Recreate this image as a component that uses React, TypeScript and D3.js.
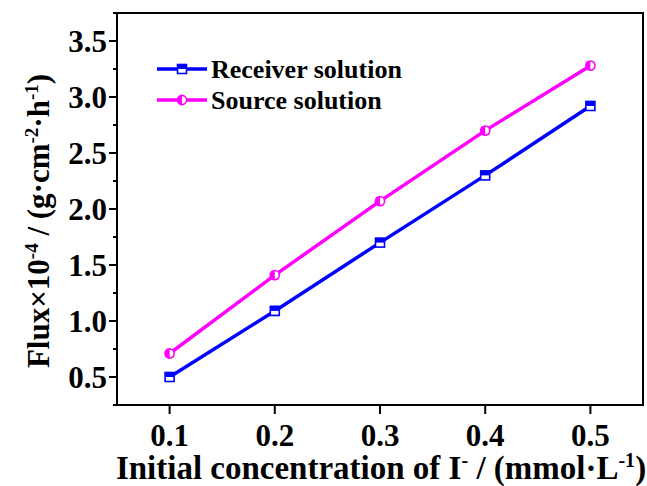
import React from "react";
import * as d3 from "d3";

const concentrations = [0.1, 0.2, 0.3, 0.4, 0.5];
const receiverFlux = [0.5, 1.09, 1.7, 2.3, 2.92];
const sourceFlux = [0.71, 1.41, 2.07, 2.7, 3.28];
const receiverErr = [0.03, 0.04, 0.03, 0.03, 0.03];
const sourceErr = [0.03, 0.03, 0.03, 0.03, 0.03];
const xTicks = [0.1, 0.2, 0.3, 0.4, 0.5];
const yTicks = [0.5, 1.0, 1.5, 2.0, 2.5, 3.0, 3.5];
const yMinorTicks = [0.25, 0.75, 1.25, 1.75, 2.25, 2.75, 3.25, 3.75];
const seriesNames = ["Receiver solution", "Source solution"];

const W = 647;
const H = 486;
const M = { left: 117, right: 643, top: 13, bottom: 405 };
const BLUE = "#0000ff";
const MAGENTA = "#ff00ff";
const FONT = "'Liberation Serif', 'Times New Roman', serif";

export default function App() {
  const x = d3.scaleLinear().domain([0.05, 0.55]).range([M.left, M.right]);
  const y = d3.scaleLinear().domain([0.25, 3.75]).range([M.bottom, M.top]);
  const line = d3
    .line<number>()
    .x((_, i) => x(concentrations[i]))
    .y((d) => y(d));

  const squareMarker = (cx: number, cy: number, color: string, key: string) => (
    <g key={key}>
      <rect x={cx - 4.5} y={cy - 4.5} width={9} height={9} fill="#fff" stroke={color} strokeWidth={1.6} />
      <rect x={cx - 4.5} y={cy - 4.5} width={9} height={4.5} fill={color} />
    </g>
  );
  const circleMarker = (cx: number, cy: number, color: string, key: string) => (
    <g key={key}>
      <circle cx={cx} cy={cy} r={4.6} fill="#fff" stroke={color} strokeWidth={1.6} />
      <path d={`M${cx},${cy - 4.6} A4.6,4.6 0 0 0 ${cx},${cy + 4.6} Z`} fill={color} />
    </g>
  );
  const errBar = (cx: number, v: number, e: number, color: string, key: string) => (
    <g key={key} stroke={color} strokeWidth={1.4}>
      <line x1={cx} x2={cx} y1={y(v - e)} y2={y(v + e)} />
      <line x1={cx - 4} x2={cx + 4} y1={y(v - e)} y2={y(v - e)} />
      <line x1={cx - 4} x2={cx + 4} y1={y(v + e)} y2={y(v + e)} />
    </g>
  );

  return (
    <svg width={W} height={H} style={{ position: "absolute", left: 0, top: 0, background: "#fff" }} fontFamily={FONT}>
      {/* frame */}
      <rect x={M.left} y={M.top} width={M.right - M.left} height={M.bottom - M.top} fill="none" stroke="#000" strokeWidth={2} />

      {/* y axis ticks */}
      {yTicks.map((t) => (
        <g key={"y" + t}>
          <line x1={M.left - 8} x2={M.left} y1={y(t)} y2={y(t)} stroke="#000" strokeWidth={2} />
          <text x={M.left - 10} y={y(t)} dy="0.35em" textAnchor="end" fontSize={31} fontWeight="bold">
            {d3.format(".1f")(t)}
          </text>
        </g>
      ))}
      {yMinorTicks.map((t) => (
        <line key={"ym" + t} x1={M.left - 4} x2={M.left} y1={y(t)} y2={y(t)} stroke="#000" strokeWidth={2} />
      ))}

      {/* x axis ticks */}
      {xTicks.map((t) => (
        <g key={"x" + t}>
          <line x1={x(t)} x2={x(t)} y1={M.bottom} y2={M.bottom + 9} stroke="#000" strokeWidth={2} />
          <text x={x(t)} y={M.bottom + 41} textAnchor="middle" fontSize={31} fontWeight="bold">
            {d3.format(".1f")(t)}
          </text>
        </g>
      ))}

      {/* series lines */}
      <path d={line(receiverFlux) || ""} fill="none" stroke={BLUE} strokeWidth={3.5} />
      <path d={line(sourceFlux) || ""} fill="none" stroke={MAGENTA} strokeWidth={3.5} />
      {receiverFlux.map((v, i) => errBar(x(concentrations[i]), v, receiverErr[i], BLUE, "re" + i))}
      {sourceFlux.map((v, i) => errBar(x(concentrations[i]), v, sourceErr[i], MAGENTA, "se" + i))}
      {receiverFlux.map((v, i) => squareMarker(x(concentrations[i]), y(v), BLUE, "rm" + i))}
      {sourceFlux.map((v, i) => circleMarker(x(concentrations[i]), y(v), MAGENTA, "sm" + i))}

      {/* legend */}
      <g>
        <line x1={157} x2={207} y1={69} y2={69} stroke={BLUE} strokeWidth={3.5} />
        {squareMarker(182, 69, BLUE, "lg0")}
        <text x={211} y={69} dy="0.35em" fontSize={26} fontWeight="bold">{seriesNames[0]}</text>
        <line x1={157} x2={207} y1={100} y2={100} stroke={MAGENTA} strokeWidth={3.5} />
        {circleMarker(182, 100, MAGENTA, "lg1")}
        <text x={211} y={100} dy="0.35em" fontSize={26} fontWeight="bold">{seriesNames[1]}</text>
      </g>

      {/* axis titles */}
      <text x={381} y={479} textAnchor="middle" fontSize={33} fontWeight="bold">
        Initial concentration of I
        <tspan dy={-12} fontSize={20}>-</tspan>
        <tspan dy={12}> / (mmol·L</tspan>
        <tspan dy={-12} fontSize={20}>-1</tspan>
        <tspan dy={12}>)</tspan>
      </text>
      <text transform={`translate(49, 221) rotate(-90)`} textAnchor="middle" fontSize={31} fontWeight="bold">
        Flux×10
        <tspan dy={-11} fontSize={19}>-4</tspan>
        <tspan dy={11}> / (g·cm</tspan>
        <tspan dy={-11} fontSize={19}>-2</tspan>
        <tspan dy={11}>·h</tspan>
        <tspan dy={-11} fontSize={19}>-1</tspan>
        <tspan dy={11}>)</tspan>
      </text>
    </svg>
  );
}
